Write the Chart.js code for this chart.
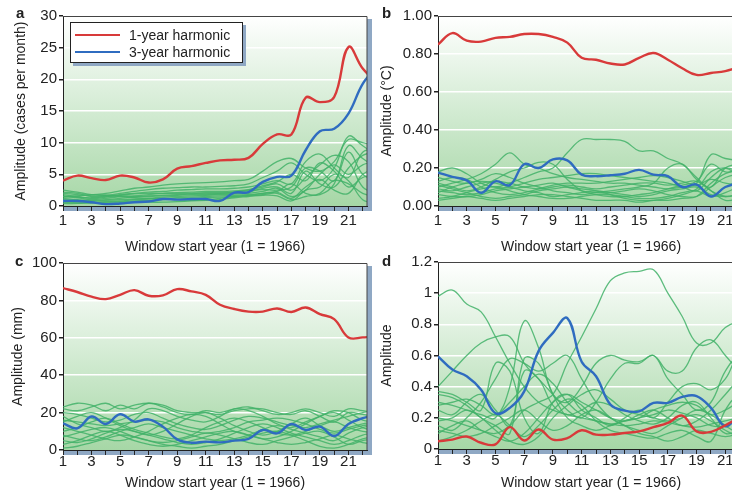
<!DOCTYPE html>
<html>
<head>
<meta charset="utf-8">
<script src="https://cdn.jsdelivr.net/npm/chart.js@4.4.1/dist/chart.umd.min.js"></script>
<style>
  html, body { margin: 0; padding: 0; width: 732px; height: 492px; overflow: hidden; background: #fff;
    font-family: "Liberation Sans", Arial, sans-serif; }
  canvas { position: absolute; }
  .lbl { position: absolute; font-weight: bold; font-size: 15px; color: #222; line-height: 1; }
  #legend { position: absolute; left: 70px; top: 22px; width: 171px; height: 39px; background: #fff;
    border: 1.5px solid #222; box-shadow: 3px 3px 0 #8fa8c4; font-size: 14px; color: #222; }
  #legend .row { position: absolute; left: 0; height: 16px; line-height: 16px; }
  #legend .sw { position: absolute; left: 4px; top: 7px; width: 45px; height: 2px; }
  #legend .tx { position: absolute; left: 58px; top: 0; white-space: nowrap; }
</style>
</head>
<body>
<canvas id="ca" width="380" height="260" style="left:0;top:0"></canvas>
<canvas id="cb" width="390" height="260" style="left:366px;top:0"></canvas>
<canvas id="cc" width="380" height="244" style="left:0;top:248px"></canvas>
<canvas id="cd" width="390" height="244" style="left:366px;top:248px"></canvas>
<div class="lbl" style="left:16px;top:5px">a</div>
<div class="lbl" style="left:382px;top:5px">b</div>
<div class="lbl" style="left:15px;top:253px">c</div>
<div class="lbl" style="left:382px;top:253px">d</div>
<div id="legend">
  <div class="row" style="top:4px"><div class="sw" style="background:#d83a3a"></div><div class="tx">1-year harmonic</div></div>
  <div class="row" style="top:21px"><div class="sw" style="background:#2f6cc0"></div><div class="tx">3-year harmonic</div></div>
</div>
<script>
// window start years (1 = 1966); last point sits just past the cropped edge
const years = [1, 2, 3, 4, 5, 6, 7, 8, 9, 10, 11, 12, 13, 14, 15, 16, 17, 18, 19, 20, 21, 22, 23];

// panel a: cases per month
const aRed  = [4.0, 4.8, 4.4, 4.1, 4.8, 4.5, 3.7, 4.2, 5.9, 6.3, 6.8, 7.2, 7.3, 7.6, 9.8, 11.3, 11.3, 17.1, 16.4, 17.2, 25.1, 21.7, 19.5];
const aBlue = [0.8, 0.8, 0.6, 0.3, 0.4, 0.6, 0.7, 1.1, 1.0, 1.1, 1.1, 0.8, 2.1, 2.2, 3.8, 4.6, 4.8, 8.8, 11.8, 12.2, 14.6, 19.3, 22];
const aGreen = [
  [2.5, 2.2, 1.8, 2.0, 2.4, 2.8, 3.0, 3.3, 3.5, 3.6, 3.7, 3.8, 4.0, 4.2, 5.5, 7.0, 7.5, 6.0, 5.5, 7.0, 10.5, 10.0, 9.5],
  [2.2, 2.0, 1.5, 1.6, 2.0, 2.3, 2.6, 2.8, 2.9, 3.0, 3.0, 3.1, 3.2, 3.5, 4.5, 5.5, 6.8, 5.0, 4.0, 6.0, 11.0, 9.5, 8.0],
  [1.8, 1.5, 1.2, 1.4, 1.8, 2.0, 2.2, 2.3, 2.5, 2.6, 2.7, 2.7, 2.8, 3.0, 3.5, 4.0, 3.5, 7.0, 8.2, 6.0, 4.5, 8.5, 9.0],
  [1.5, 1.3, 1.0, 1.2, 1.5, 1.6, 1.8, 2.0, 2.0, 2.0, 2.1, 2.1, 2.2, 2.5, 3.0, 3.5, 2.5, 4.5, 6.5, 8.0, 7.0, 3.0, 2.0],
  [1.2, 1.0, 0.9, 1.0, 1.2, 1.4, 1.5, 1.6, 1.7, 1.8, 1.8, 1.9, 2.0, 2.2, 2.8, 3.0, 2.0, 5.5, 3.5, 3.0, 6.0, 8.0, 8.5],
  [1.0, 0.9, 0.8, 0.9, 1.0, 1.1, 1.2, 1.4, 1.5, 1.6, 1.7, 1.8, 1.9, 2.0, 2.3, 2.8, 1.5, 2.5, 5.0, 6.5, 5.0, 6.5, 7.0],
  [0.8, 0.7, 0.6, 0.7, 0.8, 1.0, 1.1, 1.2, 1.3, 1.4, 1.5, 1.6, 1.7, 1.8, 2.0, 2.2, 1.2, 3.0, 4.2, 2.5, 2.0, 5.0, 6.0],
  [0.6, 0.5, 0.5, 0.6, 0.7, 0.8, 0.9, 1.0, 1.1, 1.2, 1.3, 1.4, 1.5, 1.6, 1.8, 2.0, 1.0, 1.5, 2.0, 4.0, 3.5, 2.0, 1.5],
  [2.0, 1.8, 1.6, 1.7, 1.6, 1.5, 1.6, 1.7, 1.8, 1.9, 2.0, 2.0, 2.2, 2.4, 2.6, 2.5, 3.0, 6.0, 5.5, 4.0, 8.5, 5.0, 4.0],
  [1.4, 1.6, 1.8, 1.7, 1.5, 1.3, 1.2, 1.1, 1.0, 0.9, 1.0, 1.2, 1.5, 1.7, 2.0, 2.3, 3.5, 2.0, 1.8, 3.5, 9.5, 7.5, 6.0],
  [0.4, 0.4, 0.5, 0.5, 0.5, 0.6, 0.6, 0.6, 0.7, 0.8, 0.9, 1.0, 1.3, 1.5, 1.7, 1.6, 0.8, 2.5, 3.0, 5.0, 4.0, 1.0, 0.5],
  [1.6, 1.4, 1.3, 1.5, 1.7, 1.9, 2.0, 2.0, 2.1, 2.2, 2.3, 2.3, 2.4, 2.6, 3.2, 3.8, 5.0, 4.0, 6.8, 5.5, 3.0, 4.5, 5.0]
];

// panel b: temperature (°C)
const bRed  = [0.85, 0.91, 0.87, 0.865, 0.885, 0.89, 0.905, 0.905, 0.89, 0.86, 0.78, 0.77, 0.75, 0.745, 0.78, 0.805, 0.77, 0.725, 0.69, 0.70, 0.71, 0.73, 0.74];
const bBlue = [0.176, 0.153, 0.135, 0.07, 0.13, 0.11, 0.22, 0.20, 0.245, 0.24, 0.165, 0.157, 0.162, 0.17, 0.19, 0.165, 0.157, 0.10, 0.113, 0.05, 0.10, 0.12, 0.12];
const bGreen = [
  [0.18, 0.20, 0.17, 0.12, 0.10, 0.12, 0.15, 0.18, 0.20, 0.28, 0.35, 0.35, 0.35, 0.34, 0.29, 0.29, 0.25, 0.22, 0.15, 0.08, 0.05, 0.06, 0.06],
  [0.10, 0.12, 0.14, 0.17, 0.22, 0.28, 0.22, 0.20, 0.17, 0.15, 0.14, 0.13, 0.12, 0.12, 0.11, 0.10, 0.09, 0.10, 0.12, 0.27, 0.25, 0.24, 0.24],
  [0.15, 0.13, 0.12, 0.14, 0.17, 0.15, 0.12, 0.10, 0.08, 0.07, 0.06, 0.07, 0.08, 0.09, 0.10, 0.12, 0.20, 0.22, 0.14, 0.10, 0.20, 0.22, 0.22],
  [0.12, 0.10, 0.08, 0.10, 0.14, 0.18, 0.20, 0.23, 0.22, 0.14, 0.08, 0.06, 0.05, 0.05, 0.06, 0.07, 0.09, 0.11, 0.13, 0.22, 0.18, 0.19, 0.20],
  [0.08, 0.07, 0.06, 0.07, 0.09, 0.10, 0.12, 0.14, 0.15, 0.16, 0.17, 0.17, 0.16, 0.15, 0.14, 0.13, 0.12, 0.10, 0.08, 0.15, 0.20, 0.18, 0.17],
  [0.06, 0.05, 0.05, 0.06, 0.08, 0.09, 0.10, 0.11, 0.12, 0.10, 0.08, 0.07, 0.07, 0.08, 0.09, 0.08, 0.06, 0.05, 0.05, 0.10, 0.15, 0.17, 0.18],
  [0.11, 0.09, 0.07, 0.05, 0.04, 0.05, 0.06, 0.08, 0.09, 0.10, 0.09, 0.08, 0.06, 0.04, 0.03, 0.03, 0.04, 0.06, 0.09, 0.18, 0.20, 0.16, 0.15],
  [0.04, 0.05, 0.07, 0.09, 0.10, 0.08, 0.06, 0.05, 0.04, 0.04, 0.05, 0.06, 0.06, 0.05, 0.04, 0.04, 0.05, 0.07, 0.08, 0.05, 0.07, 0.10, 0.10],
  [0.09, 0.08, 0.10, 0.12, 0.13, 0.12, 0.10, 0.09, 0.10, 0.11, 0.10, 0.09, 0.10, 0.11, 0.12, 0.12, 0.11, 0.12, 0.13, 0.08, 0.03, 0.04, 0.05],
  [0.03, 0.04, 0.05, 0.04, 0.03, 0.04, 0.05, 0.06, 0.06, 0.05, 0.04, 0.03, 0.03, 0.03, 0.02, 0.03, 0.03, 0.04, 0.05, 0.12, 0.17, 0.19, 0.19],
  [0.07, 0.10, 0.12, 0.13, 0.12, 0.10, 0.08, 0.07, 0.05, 0.06, 0.07, 0.08, 0.07, 0.06, 0.05, 0.06, 0.08, 0.09, 0.10, 0.06, 0.05, 0.06, 0.07],
  [0.13, 0.15, 0.14, 0.10, 0.07, 0.06, 0.07, 0.09, 0.11, 0.12, 0.12, 0.12, 0.13, 0.14, 0.15, 0.16, 0.15, 0.13, 0.11, 0.14, 0.12, 0.11, 0.10]
];

// panel c: rainfall (mm)
const cRed  = [86.6, 84.5, 82, 80.7, 83, 85.5, 82.5, 82.7, 86, 84.8, 83, 77.7, 75.4, 74, 74, 75.7, 73.8, 76.2, 72.7, 70, 60.2, 60.2, 61];
const cBlue = [14.3, 11.6, 17.9, 13.9, 19.1, 15.2, 16.4, 12.5, 5.7, 3.9, 4.5, 4.1, 5.0, 5.9, 10.7, 8.9, 13.9, 10.7, 12.5, 7.5, 13.9, 17.0, 19];
const cGreen = [
  [23, 25, 24, 21, 24, 22, 25, 23, 20, 19, 21, 20, 22, 23, 21, 19, 20, 22, 20, 18, 22, 21, 20],
  [22, 21, 23, 25, 22, 24, 25, 24, 21, 20, 20, 19, 21, 22, 22, 20, 19, 21, 18, 15, 20, 19, 18],
  [18, 14, 12, 10, 12, 16, 22, 21, 18, 16, 15, 18, 22, 21, 18, 14, 12, 15, 18, 21, 20, 16, 15],
  [15, 18, 20, 17, 13, 10, 8, 10, 14, 18, 20, 17, 13, 10, 8, 10, 14, 17, 13, 10, 12, 14, 15],
  [10, 12, 15, 17, 14, 11, 9, 7, 6, 8, 12, 15, 17, 15, 12, 9, 8, 10, 13, 15, 12, 10, 9],
  [8, 6, 5, 7, 10, 12, 14, 12, 10, 8, 6, 5, 6, 8, 11, 13, 11, 9, 7, 5, 9, 12, 13],
  [12, 10, 8, 6, 5, 7, 10, 14, 17, 19, 18, 14, 10, 8, 6, 7, 10, 14, 18, 20, 16, 12, 10],
  [5, 4, 6, 9, 11, 10, 8, 6, 4, 3, 4, 6, 9, 12, 14, 12, 9, 7, 5, 3, 5, 8, 9],
  [3, 5, 8, 10, 8, 5, 3, 2, 3, 5, 7, 9, 10, 8, 6, 4, 3, 4, 6, 8, 6, 4, 3],
  [7, 9, 11, 12, 10, 7, 5, 4, 5, 7, 9, 8, 6, 4, 3, 5, 7, 9, 10, 7, 3, 5, 6],
  [20, 19, 17, 15, 16, 19, 20, 17, 14, 12, 11, 13, 16, 18, 17, 15, 13, 12, 14, 16, 18, 20, 21],
  [1, 2, 4, 6, 8, 7, 5, 3, 2, 1, 2, 3, 5, 7, 9, 10, 8, 5, 2, 1, 3, 6, 7],
  [16, 15, 14, 13, 14, 15, 16, 15, 12, 10, 9, 10, 12, 15, 16, 17, 16, 14, 11, 9, 11, 13, 14]
];

// panel d: dimensionless amplitude
const dRed  = [0.05, 0.06, 0.08, 0.04, 0.03, 0.14, 0.055, 0.125, 0.06, 0.07, 0.12, 0.092, 0.092, 0.103, 0.113, 0.14, 0.167, 0.214, 0.113, 0.11, 0.152, 0.2, 0.22];
const dBlue = [0.595, 0.51, 0.467, 0.38, 0.23, 0.264, 0.37, 0.628, 0.745, 0.84, 0.56, 0.467, 0.285, 0.246, 0.242, 0.296, 0.296, 0.334, 0.34, 0.264, 0.146, 0.22, 0.25];
const dGreen = [
  [0.98, 1.02, 0.93, 0.88, 0.72, 0.55, 0.40, 0.30, 0.25, 0.22, 0.20, 0.18, 0.16, 0.15, 0.16, 0.18, 0.17, 0.15, 0.14, 0.16, 0.18, 0.20, 0.20],
  [0.40, 0.50, 0.60, 0.68, 0.72, 0.72, 0.55, 0.45, 0.35, 0.25, 0.20, 0.30, 0.45, 0.55, 0.55, 0.60, 0.45, 0.35, 0.25, 0.30, 0.50, 0.60, 0.60],
  [0.20, 0.18, 0.15, 0.12, 0.10, 0.15, 0.25, 0.30, 0.35, 0.55, 0.72, 0.90, 1.08, 1.13, 1.14, 1.15, 1.00, 0.85, 0.68, 0.68, 0.78, 0.82, 0.84],
  [0.30, 0.28, 0.25, 0.22, 0.20, 0.40, 0.82, 0.65, 0.35, 0.30, 0.40, 0.55, 0.60, 0.57, 0.56, 0.60, 0.50, 0.50, 0.65, 0.70, 0.60, 0.50, 0.45],
  [0.37, 0.35, 0.30, 0.25, 0.55, 0.50, 0.20, 0.10, 0.30, 0.35, 0.25, 0.20, 0.15, 0.20, 0.25, 0.20, 0.30, 0.40, 0.42, 0.38, 0.45, 0.62, 0.64],
  [0.15, 0.12, 0.20, 0.30, 0.45, 0.58, 0.55, 0.50, 0.55, 0.60, 0.45, 0.30, 0.20, 0.15, 0.12, 0.10, 0.15, 0.20, 0.25, 0.22, 0.15, 0.10, 0.10],
  [0.10, 0.15, 0.18, 0.12, 0.08, 0.05, 0.10, 0.20, 0.30, 0.35, 0.30, 0.25, 0.20, 0.18, 0.22, 0.25, 0.20, 0.15, 0.18, 0.25, 0.35, 0.45, 0.50],
  [0.25, 0.22, 0.30, 0.35, 0.25, 0.15, 0.50, 0.45, 0.28, 0.22, 0.25, 0.30, 0.28, 0.22, 0.18, 0.16, 0.20, 0.28, 0.30, 0.20, 0.10, 0.12, 0.15],
  [0.05, 0.08, 0.12, 0.18, 0.22, 0.15, 0.08, 0.15, 0.25, 0.32, 0.28, 0.18, 0.12, 0.10, 0.08, 0.07, 0.10, 0.12, 0.08, 0.05, 0.25, 0.35, 0.35],
  [0.35, 0.33, 0.28, 0.20, 0.15, 0.10, 0.58, 0.55, 0.35, 0.20, 0.15, 0.12, 0.15, 0.18, 0.20, 0.22, 0.25, 0.23, 0.20, 0.15, 0.15, 0.20, 0.20],
  [0.12, 0.10, 0.08, 0.10, 0.15, 0.20, 0.25, 0.18, 0.12, 0.15, 0.22, 0.25, 0.20, 0.15, 0.10, 0.08, 0.05, 0.08, 0.12, 0.10, 0.08, 0.10, 0.12],
  [0.18, 0.20, 0.25, 0.20, 0.12, 0.05, 0.03, 0.08, 0.20, 0.28, 0.35, 0.38, 0.32, 0.25, 0.22, 0.20, 0.18, 0.20, 0.22, 0.18, 0.12, 0.08, 0.08],
  [0.28, 0.30, 0.32, 0.28, 0.22, 0.30, 0.40, 0.48, 0.42, 0.30, 0.22, 0.18, 0.16, 0.18, 0.20, 0.25, 0.28, 0.30, 0.28, 0.22, 0.25, 0.30, 0.30]
];

const FONT = '"Liberation Sans", Arial, sans-serif';
const INK = '#222';
const BAND = '#8fa8c4';

// gradient plot background, blue-grey axis band and drop shadow
const panelDeco = {
  id: 'panelDeco',
  beforeDraw(chart, args, opts) {
    const { ctx, chartArea: a } = chart;
    ctx.save();
    ctx.fillStyle = BAND;
    if (opts.shadow) ctx.fillRect(a.right, a.top + 3, 5, a.bottom - a.top + 2);
    ctx.fillRect(a.left, a.bottom, a.right - a.left + (opts.shadow ? 5 : 0), 5);
    const g = ctx.createLinearGradient(0, a.top, 0, a.bottom);
    g.addColorStop(0, '#ffffff');
    g.addColorStop(1, '#a6d7a6');
    ctx.fillStyle = g;
    ctx.fillRect(a.left, a.top, a.right - a.left, a.bottom - a.top);
    ctx.restore();
  },
  afterDatasetsDraw(chart, args, opts) {
    const { ctx, chartArea: a } = chart;
    ctx.save();
    ctx.strokeStyle = '#444';
    ctx.lineWidth = 1;
    ctx.beginPath();
    ctx.moveTo(a.left, a.top + 0.5);
    ctx.lineTo(a.right, a.top + 0.5);
    if (opts.shadow) ctx.lineTo(a.right, a.bottom);
    ctx.stroke();
    ctx.restore();
  }
};

function line(data, color, width) {
  return {
    data: years.map((x, i) => ({ x: x, y: data[i] })),
    borderColor: color,
    borderWidth: width,
    pointRadius: 0,
    tension: 0.4,
    fill: false
  };
}

function makePanel(id, p) {
  const sets = [line(p.red, '#d83a3a', 2.4), line(p.blue, '#2f6cc0', 2.4)];
  p.green.forEach(g => sets.push(line(g, 'rgba(66,178,104,0.85)', 1.3)));
  return new Chart(document.getElementById(id), {
    type: 'line',
    data: { datasets: sets },
    plugins: [panelDeco],
    options: {
      responsive: false,
      animation: false,
      events: [],
      layout: { padding: { top: p.top, right: p.right, left: 0, bottom: 0 } },
      plugins: {
        legend: { display: false },
        tooltip: { enabled: false },
        panelDeco: { shadow: p.shadow }
      },
      scales: {
        x: {
          type: 'linear',
          min: 1,
          max: 22.3,
          afterFit: s => { s.height = p.xh; },
          grid: { drawOnChartArea: false, tickLength: 5, tickColor: INK },
          border: { color: INK, width: 1 },
          ticks: {
            stepSize: 1,
            includeBounds: false,
            autoSkip: false,
            maxRotation: 0,
            padding: p.xpad,
            color: INK,
            font: { family: FONT, size: 15 },
            callback: v => (v % 2 === 1 ? String(v) : '')
          },
          title: {
            display: true,
            text: 'Window start year (1 = 1966)',
            color: INK,
            font: { family: FONT, size: 14 },
            padding: { top: 0, bottom: p.tpad }
          }
        },
        y: {
          min: 0,
          max: p.max,
          afterFit: s => { s.width = p.yw; },
          grid: {
            color: c => (c.tick && c.tick.value > 0 && c.tick.value < p.max - 1e-9) ? '#ffffff' : 'rgba(0,0,0,0)',
            lineWidth: 1.5,
            tickLength: 4,
            tickColor: INK
          },
          border: { color: INK, width: 1 },
          ticks: {
            stepSize: p.step,
            padding: 2,
            color: INK,
            font: { family: FONT, size: 15 },
            callback: p.fmt
          },
          title: {
            display: true,
            text: p.title,
            color: INK,
            font: { family: FONT, size: 14 },
            padding: { top: p.ytpad, bottom: 0 }
          }
        }
      }
    }
  });
}

makePanel('ca', { red: aRed, blue: aBlue, green: aGreen, max: 30, step: 5, fmt: v => String(v),
  title: 'Amplitude (cases per month)', top: 16, right: 13, yw: 63, xh: 54, xpad: 1, tpad: 4.6, ytpad: 13, shadow: true });
makePanel('cb', { red: bRed, blue: bBlue, green: bGreen, max: 1, step: 0.2, fmt: v => v.toFixed(2),
  title: 'Amplitude (°C)', top: 16, right: 12, yw: 72, xh: 54, xpad: 1, tpad: 4.6, ytpad: 13, shadow: false });
makePanel('cc', { red: cRed, blue: cBlue, green: cGreen, max: 100, step: 20, fmt: v => String(v),
  title: 'Amplitude (mm)', top: 15, right: 13, yw: 63, xh: 42, xpad: -2, tpad: 0.6, ytpad: 10, shadow: true });
makePanel('cd', { red: dRed, blue: dBlue, green: dGreen, max: 1.2, step: 0.2, fmt: v => String(+v.toFixed(1)),
  title: 'Amplitude', top: 14, right: 12, yw: 72, xh: 43, xpad: -2, tpad: 0.6, ytpad: 13, shadow: false });
</script>
</body>
</html>
